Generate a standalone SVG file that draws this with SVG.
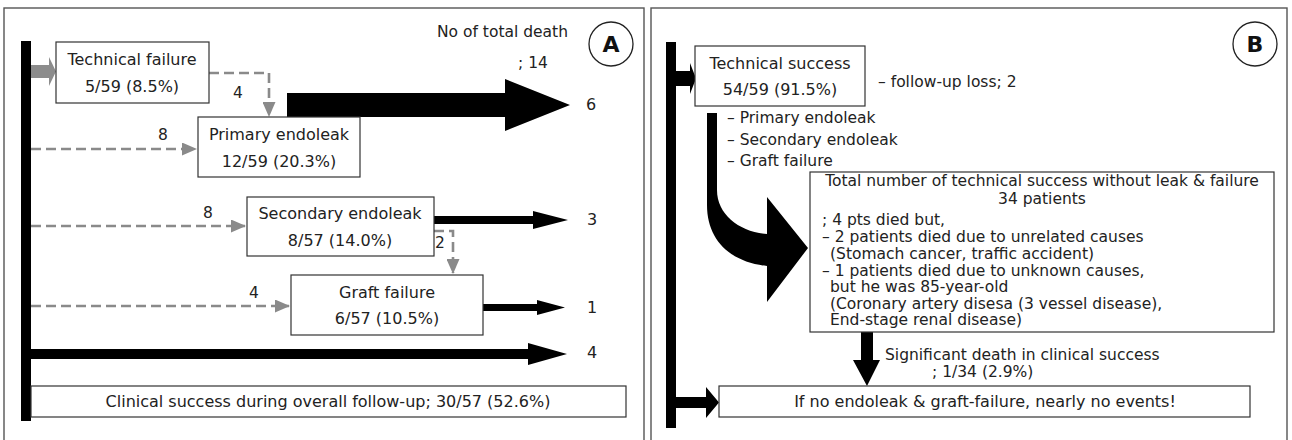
<svg xmlns="http://www.w3.org/2000/svg" width="1292" height="440" viewBox="0 0 1292 440">
<defs>
<style>
text{font-family:"DejaVu Sans","Liberation Sans",sans-serif;fill:#222;}
.t{font-size:16px;}
.s{font-size:15.5px;}
.c{text-anchor:middle;}
.box{fill:#fff;stroke:#333;stroke-width:1.2;}
.panel{fill:#fff;stroke:#555;stroke-width:1.4;}
.dash{fill:none;stroke:#8a8a8a;stroke-width:2.6;stroke-dasharray:10 5;marker-end:url(#ga);}
.blk{fill:#000;}
.lbl{font-size:22px;font-weight:bold;fill:#111;}
</style>
<marker id="ga" viewBox="0 0 15 13" refX="14" refY="6.5" markerWidth="15" markerHeight="13" markerUnits="userSpaceOnUse" orient="auto">
<path d="M0,0 L15,6.5 L0,13 Z" fill="#8a8a8a"/>
</marker>
</defs>
<rect class="panel" x="4" y="8" width="640" height="440"/>
<rect class="panel" x="651" y="8" width="636" height="440"/>

<g id="connectors">
<!-- panel A -->
<rect class="blk" x="21" y="41" width="10" height="380"/>
<polygon points="31,65 49,65 49,57 56,71.5 49,86 49,78 31,78" fill="#8c8c8c"/>
<path class="dash" d="M209,73 H269 V116"/>
<path class="dash" d="M31,149 H196"/>
<path class="dash" d="M31,226 H245"/>
<path class="dash" d="M31,306 H289"/>
<path class="dash" d="M434,231 H453 V273"/>
<polygon class="blk" points="287,93 505,93 505,79 570,105 505,131 505,117 287,117"/>
<polygon class="blk" points="434,216 533,216 533,211 568,220 533,229 533,224 434,224"/>
<polygon class="blk" points="483,304 537,304 537,300 565,307.5 537,315 537,311 483,311"/>
<polygon class="blk" points="31,349 528,349 528,343 567,354 528,365 528,359 31,359"/>
<!-- panel B -->
<rect class="blk" x="666" y="42" width="10" height="386"/>
<polygon class="blk" points="676,71 690,71 690,63 696,78.5 690,94 690,86 676,86"/>
<path class="blk" d="M707,113 H717 V190 C717,215 740,232 767,234 L767,197 L808,248 L767,302 L767,266 C730,262 707,240 707,205 Z"/>
<polygon class="blk" points="861,332 873,332 873,360 880,360 867,386 853,360 861,360"/>
<polygon class="blk" points="676,397 706,397 706,387 719,402.5 706,418 706,408 676,408"/>
</g>

<g id="labelsA">
<text class="s" x="568" y="37" text-anchor="end">No of total death</text>
<text class="s" x="518" y="68">; 14</text>
<text class="s" x="238" y="98" text-anchor="middle">4</text>
<text class="s" x="163" y="140" text-anchor="middle">8</text>
<text class="s" x="208" y="218" text-anchor="middle">8</text>
<text class="s" x="254" y="298" text-anchor="middle">4</text>
<text class="s" x="440" y="248" text-anchor="middle">2</text>
<text class="t" x="591" y="110" text-anchor="middle">6</text>
<text class="t" x="592" y="225" text-anchor="middle">3</text>
<text class="t" x="592" y="313" text-anchor="middle">1</text>
<text class="t" x="592" y="358" text-anchor="middle">4</text>
</g>

<g id="markA">
<circle cx="611" cy="44" r="22" fill="#fff" stroke="#222" stroke-width="1.3"/>
<text class="lbl" x="611" y="52" text-anchor="middle">A</text>
</g>

<g id="technical-failure">
<rect class="box" x="56" y="42" width="153" height="61"/>
<text class="t c" x="132" y="65">Technical failure</text>
<text class="t c" x="132" y="92">5/59 (8.5%)</text>
</g>
<g id="primary-endoleak">
<rect class="box" x="198" y="117" width="162" height="60"/>
<text class="t c" x="279" y="140">Primary endoleak</text>
<text class="t c" x="279" y="167">12/59 (20.3%)</text>
</g>
<g id="secondary-endoleak">
<rect class="box" x="247" y="197" width="187" height="59"/>
<text class="t c" x="340" y="219">Secondary endoleak</text>
<text class="t c" x="340" y="246">8/57 (14.0%)</text>
</g>
<g id="graft-failure">
<rect class="box" x="291" y="275" width="192" height="60"/>
<text class="t c" x="387" y="298">Graft failure</text>
<text class="t c" x="387" y="324">6/57 (10.5%)</text>
</g>
<g id="clinical-success">
<rect class="box" x="31" y="386" width="595" height="31"/>
<text class="t c" x="328" y="407">Clinical success during overall follow-up; 30/57 (52.6%)</text>
</g>

<g id="markB">
<circle cx="1255" cy="44" r="22" fill="#fff" stroke="#222" stroke-width="1.3"/>
<text class="lbl" x="1255" y="52" text-anchor="middle">B</text>
</g>

<g id="technical-success">
<rect class="box" x="695" y="46" width="170" height="60"/>
<text class="t c" x="780" y="69">Technical success</text>
<text class="t c" x="780" y="95">54/59 (91.5%)</text>
</g>
<g id="labelsB">
<text class="s" x="878" y="87">– follow-up loss; 2</text>
<text class="s" x="727" y="123">– Primary endoleak</text>
<text class="s" x="727" y="145">– Secondary endoleak</text>
<text class="s" x="727" y="166">– Graft failure</text>
<text class="s" x="885" y="360">Significant death in clinical success</text>
<text class="s" x="932" y="377">; 1/34 (2.9%)</text>
</g>
<g id="technical-success-no-leak">
<rect class="box" x="810" y="172" width="464" height="160"/>
<text class="s c" x="1042" y="186">Total number of technical success without leak &amp; failure</text>
<text class="s c" x="1042" y="204">34 patients</text>
<text class="s" x="822" y="225">; 4 pts died but,</text>
<text class="s" x="822" y="242">– 2 patients died due to unrelated causes</text>
<text class="s" x="830" y="259">(Stomach cancer, traffic accident)</text>
<text class="s" x="822" y="276">– 1 patients died due to unknown causes,</text>
<text class="s" x="830" y="292">but he was 85-year-old</text>
<text class="s" x="830" y="309">(Coronary artery disesa (3 vessel disease),</text>
<text class="s" x="830" y="325">End-stage renal disease)</text>
</g>
<g id="no-events">
<rect class="box" x="719" y="386" width="531" height="31"/>
<text class="t c" x="985" y="407">If no endoleak &amp; graft-failure, nearly no events!</text>
</g>
</svg>
